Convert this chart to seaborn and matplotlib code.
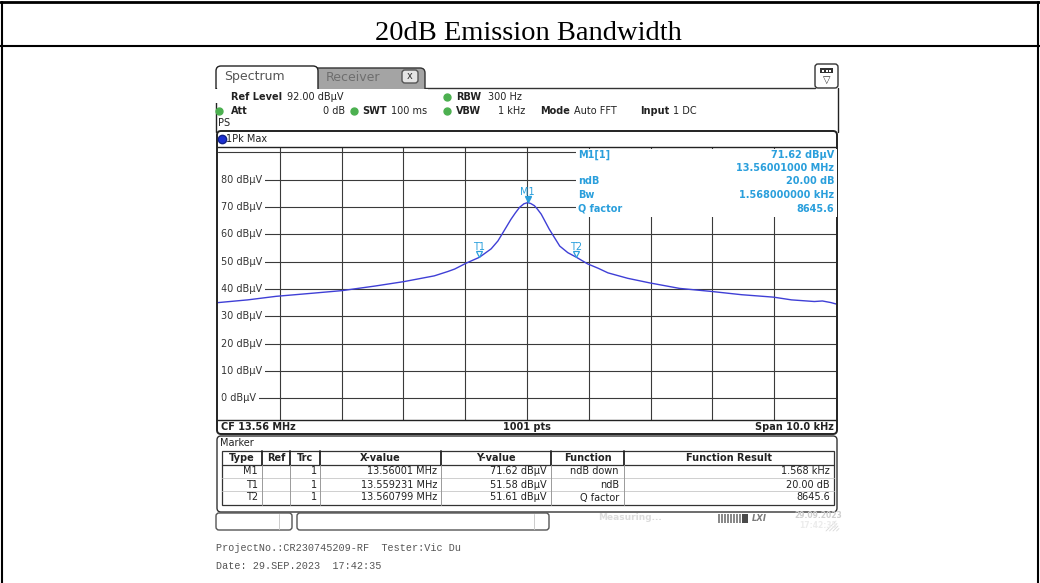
import numpy as np
import pandas as pd
import matplotlib.pyplot as plt
import seaborn as sns
from matplotlib.patches import FancyBboxPatch, Rectangle
from matplotlib.transforms import offset_copy

W, H = 1040, 583
CF_MHZ = 13.56

# trace: offset from CF in kHz, level in dBuV
freq_offset_khz = [-5.00, -4.52, -4.06, -3.44, -2.99, -2.45, -1.99, -1.50, -1.28,
                   -1.17, -0.98, -0.77, -0.58, -0.47, -0.39, -0.26, -0.19, -0.12,
                   -0.05, 0.01, 0.06, 0.12, 0.17, 0.23, 0.36, 0.53, 0.66, 0.80,
                   0.98, 1.15, 1.31, 1.63, 1.99, 2.47, 2.98, 3.47, 3.99, 4.28,
                   4.65, 4.78, 4.92, 5.00]
level_dbuv = [35.0, 36.0, 37.3, 38.5, 39.4, 41.1, 42.7, 44.8, 46.4,
              47.3, 49.5, 51.6, 54.7, 57.6, 60.6, 65.5, 67.8, 69.9,
              71.2, 71.62, 71.3, 70.5, 69.2, 67.4, 61.9, 55.7, 53.3, 51.6,
              49.2, 47.6, 45.9, 43.9, 42.2, 40.2, 39.1, 37.9, 37.0, 36.0,
              35.4, 35.6, 35.0, 34.5]

y_levels = [0, 10, 20, 30, 40, 50, 60, 70, 80]

# marker table
mk_type = ["M1", "T1", "T2"]
mk_trc = ["1", "1", "1"]
mk_freq_mhz = [13.56001, 13.559231, 13.560799]
mk_level = [71.62, 51.58, 51.61]
mk_xval = ["13.56001 MHz", "13.559231 MHz", "13.560799 MHz"]
mk_yval = ["71.62 dBµV", "51.58 dBµV", "51.61 dBµV"]
mk_func = ["ndB down", "ndB", "Q factor"]
mk_result = ["1.568 kHz", "20.00 dB", "8645.6"]

# marker info block in the upper right of the diagram
info_names = ["M1[1]", "", "ndB", "Bw", "Q factor"]
info_values = ["71.62 dBµV", "13.56001000 MHz", "20.00 dB", "1.568000000 kHz", "8645.6"]

TRACE = "#3f3fd6"
MK_BLUE = "#2a9fdc"
GRID = "#3a3a3a"
GREEN = "#4cb050"

sns.set_theme(style="white")
plt.rcParams["font.family"] = ["DejaVu Sans"]

fig = plt.figure(figsize=(W / 100, H / 100), dpi=100)
fig.patch.set_facecolor("white")

# ---- diagram ----
ax = fig.add_axes([218 / W, 1 - 420 / H, 618 / W, 273 / H], zorder=1)
df = pd.DataFrame({"offset": freq_offset_khz, "level": level_dbuv})
sns.lineplot(data=df, x="offset", y="level", ax=ax, color=TRACE, lw=1.0, zorder=2)
ax.set_xlim(-5, 5)
ax.set_ylim(-8, 92)
ax.set_xticks(np.arange(-4, 5, 1))
ax.set_yticks(np.arange(0, 91, 10))
ax.grid(True, color=GRID, lw=0.8)
ax.set_axisbelow(True)
ax.tick_params(length=0, labelbottom=False, labelleft=False)
ax.set_xlabel("")
ax.set_ylabel("")
for s in ["left", "right"]:
    ax.spines[s].set_visible(False)
for s in ["top", "bottom"]:
    ax.spines[s].set_color("#222222")
    ax.spines[s].set_linewidth(1.0)

for lv in y_levels:
    ax.text(-4.95, lv, f"{lv} dBµV", fontsize=7, color="#333333", ha="left", va="center",
            zorder=3, bbox=dict(fc="white", ec="none", pad=2.2))
    # blank the bit of grid line left of the label
    ax.plot([-5, -4.95], [lv, lv], color="white", lw=2.5, zorder=3, solid_capstyle="butt")

mk_off = [(f - CF_MHZ) * 1000 for f in mk_freq_mhz]
up = offset_copy(ax.transData, fig=fig, y=2.3, units="points")
ax.plot(mk_off[:1], mk_level[:1], marker="v", ms=4.6, color=MK_BLUE, ls="none",
        transform=up, zorder=4)
ax.plot(mk_off[1:], mk_level[1:], marker="v", ms=4.6, mfc="white", mec=MK_BLUE,
        mew=0.9, ls="none", transform=up, zorder=4)
for name, xo, lv in zip(mk_type, mk_off, mk_level):
    ax.annotate(name, (xo, lv), xytext=(0, 5.8 if name == "M1" else 5.2),
                textcoords="offset points", ha="center", va="baseline",
                fontsize=7, color=MK_BLUE, zorder=4)

# ---- everything else of the screenshot, in pixel coordinates ----
ov = fig.add_axes([0, 0, 1, 1], zorder=3)
ov.set_xlim(0, W)
ov.set_ylim(H, 0)
ov.axis("off")
ov.patch.set_alpha(0)


def box(x0, y0, x1, y1, fc="none", ec="#222222", lw=1.0, r=4, z=1):
    ov.add_patch(FancyBboxPatch((x0, y0), x1 - x0, y1 - y0,
                                boxstyle=f"round,pad=0,rounding_size={r}",
                                fc=fc, ec=ec, lw=lw, zorder=z))


def txt(x, y, s, size=7, bold=False, ha="left", color="#222222", **kw):
    ov.text(x, y, s, fontsize=size, fontweight="bold" if bold else "normal",
            ha=ha, va="center", color=color, **kw)


# document table frame and title
ov.plot([0, W], [2, 2], color="black", lw=2)
ov.plot([0, W], [46, 46], color="black", lw=1.5)
ov.plot([1.5, 1.5], [2, H], color="black", lw=1.5)
ov.plot([1037.5, 1037.5], [2, H], color="black", lw=1.5)
ov.text(528, 33, "20dB Emission Bandwidth", fontsize=20.5, family="Liberation Serif",
        ha="center", va="center", color="black")

# tabs
box(310, 68, 425, 100, fc="#a4a4a4", ec="#333333", r=5)
box(216, 66, 318, 100, fc="white", ec="#222222", r=5, z=2)
ov.add_patch(Rectangle((214, 88.7), 214, 14, fc="white", ec="none", zorder=3))
ov.plot([425, 815], [88, 88], color="#333333", lw=1)
txt(224, 76.5, "Spectrum", size=9, color="#555555", zorder=3)
txt(326, 77.5, "Receiver", size=9, color="#6e6e6e", zorder=3)
box(402, 70, 418, 83, fc="#e4e4e4", ec="#555555", r=3, z=3)
txt(410, 76, "x", size=7, ha="center", color="#333333", zorder=4)

# icon top right
box(815, 64, 838, 88, fc="white", ec="#333333", r=3, z=3)
ov.add_patch(Rectangle((820, 68), 13, 5, fc="#333333", ec="none", zorder=4))
for k in range(3):
    ov.add_patch(Rectangle((822 + k * 3.5, 69.5), 2, 2, fc="white", ec="none", zorder=5))
txt(826.5, 80, "▽", size=7, ha="center", color="#333333", zorder=4)

# frame of the tab page
ov.plot([216, 216], [88, 132], color="#222222", lw=1)
ov.plot([838, 838], [88, 132], color="#222222", lw=1)

# settings rows
txt(231, 97, "Ref Level", bold=True)
txt(287, 97, "92.00 dBµV")
ov.plot([447], [97], "o", ms=5, color=GREEN)
txt(456, 97, "RBW", bold=True)
txt(488, 97, "300 Hz")

ov.plot([219], [110.5], "o", ms=5, color=GREEN)
txt(231, 110.5, "Att", bold=True)
txt(345, 110.5, "0 dB", ha="right")
ov.plot([354], [110.5], "o", ms=5, color=GREEN)
txt(362, 110.5, "SWT", bold=True)
txt(391, 110.5, "100 ms")
ov.plot([447], [110.5], "o", ms=5, color=GREEN)
txt(456, 110.5, "VBW", bold=True)
txt(525, 110.5, "1 kHz", ha="right")
txt(540, 110.5, "Mode", bold=True)
txt(574, 110.5, "Auto FFT")
txt(640, 110.5, "Input", bold=True)
txt(673, 110.5, "1 DC")
txt(218, 123, "PS")

# trace box
box(217, 131, 837, 434, ec="#222222", lw=1.4, r=4)
ov.plot([221.5], [139], "o", ms=6, color="#1c2fd0", mec="#10208a")
txt(225.5, 139, "1Pk Max")
txt(221, 427, "CF 13.56 MHz", bold=True)
txt(527, 427, "1001 pts", bold=True, ha="center")
txt(834, 427, "Span 10.0 kHz", bold=True, ha="right")

# marker info block over the diagram
ov.add_patch(Rectangle((576, 148.5), 260.5, 68.5, fc="white", ec="none", zorder=2))
info_rows = [155, 168, 181.5, 195, 208.5]
for yy, name, val in zip(info_rows, info_names, info_values):
    txt(578, yy, name, bold=True, color=MK_BLUE, zorder=3)
    txt(834, yy, val, bold=True, color=MK_BLUE, ha="right", zorder=3)

# marker table
box(217, 436, 837, 512, ec="#333333", lw=1.0, r=4)
txt(220, 443.5, "Marker")
ov.add_patch(Rectangle((222, 451), 612, 54, fc="none", ec="#333333", lw=0.9))
ov.plot([222, 834], [465, 465], color="#333333", lw=0.9)
for yy in [478, 491]:
    ov.plot([222, 834], [yy, yy], color="#c8c8c8", lw=0.6)
col_edges = [222, 262, 290, 320, 441, 551, 624, 834]
for xx in col_edges[1:-1]:
    ov.plot([xx, xx], [451, 465], color="#222222", lw=1.3)
    ov.plot([xx, xx], [465, 505], color="#9a9a9a", lw=0.7)
headers = ["Type", "Ref", "Trc", "X-value", "Y-value", "Function", "Function Result"]
for i, hname in enumerate(headers):
    txt((col_edges[i] + col_edges[i + 1]) / 2, 458, hname, bold=True, ha="center")
row_y = [471.5, 484.5, 497.5]
for i, yy in enumerate(row_y):
    txt(258, yy, mk_type[i], ha="right")
    txt(317, yy, mk_trc[i], ha="right")
    txt(437, yy, mk_xval[i], ha="right")
    txt(547, yy, mk_yval[i], ha="right")
    txt(619, yy, mk_func[i], ha="right")
    txt(830, yy, mk_result[i], ha="right")

# status bar
box(216, 513, 292, 530, fc="white", ec="#555555", r=3)
ov.plot([279, 279], [514, 529], color="#cccccc", lw=0.7)
box(297, 513, 549, 530, fc="white", ec="#555555", r=3)
ov.plot([534, 534], [514, 529], color="#cccccc", lw=0.7)
txt(598, 518, "Measuring...", size=6.5, bold=True, color="#dcdcdc")
for i in range(8):
    ov.add_patch(Rectangle((718 + i * 3, 514), 2.2, 9, fc="#8a8a8a", ec="none"))
ov.add_patch(Rectangle((742, 514), 6, 9, fc="#4a4a4a", ec="none"))
ov.text(752, 518.5, "LXI", fontsize=6, fontweight="bold", style="italic",
        color="#7a7a7a", ha="left", va="center")
txt(818, 515, "29.09.2023", size=5.5, bold=True, color="#d0d0d0", ha="center")
txt(818, 525, "17:42:35", size=5.5, bold=True, color="#ececec", ha="center")
for k in range(4):
    ov.plot([826 + k * 3.5, 836 + k * 1], [531, 521 + k * 2.5], color="#d8d8d8", lw=0.6)

# footer
ov.text(216, 548, "ProjectNo.:CR230745209-RF  Tester:Vic Du", fontsize=7.3,
        family="Liberation Mono", color="#555555", ha="left", va="center")
ov.text(216, 566, "Date: 29.SEP.2023  17:42:35", fontsize=7.3,
        family="Liberation Mono", color="#555555", ha="left", va="center")

fig.savefig("out.png", dpi=100, facecolor="white")
